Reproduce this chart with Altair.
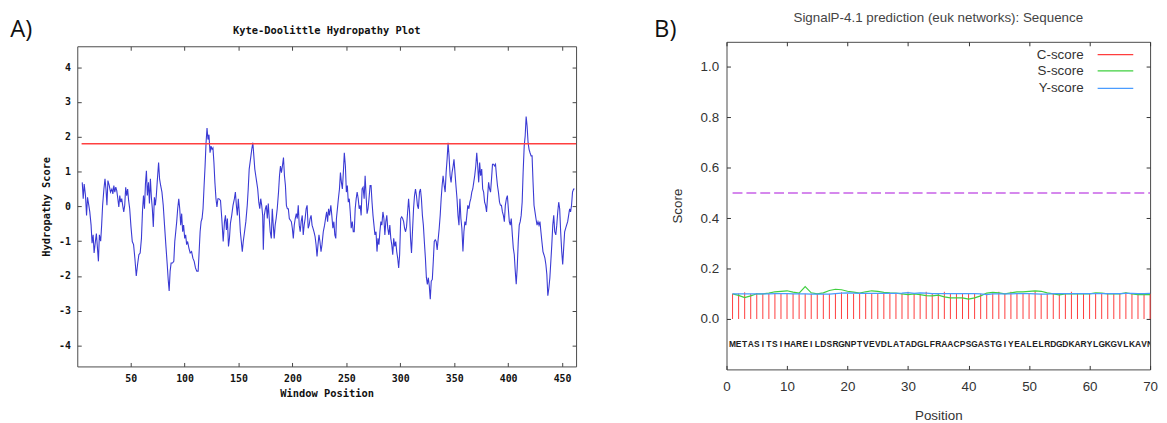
import altair as alt
import pandas as pd

# ---------------- Panel A: Kyte-Doolittle hydropathy (window position, score)
KD_SEG_1 = [(5.1,0.69),(6.0,0.22),(6.9,0.64),(8.1,0.31),(9.1,-0.26),(10.0,0.26),(11.2,0.03),(12.1,-0.16),(13.3,-0.54),(14.2,-1.06),(15.2,-0.82),(16.1,-1.34),(17.3,-1.01),(18.2,-0.78),(19.1,-1.15),(20.1,-1.58),(21.0,-0.82),(22.2,-1.0),(23.1,-0.54),(24.0,0.03),(25.2,0.5),(26.2,0.79),(27.1,0.5),(28.0,0.03),(28.9,0.74),(30.1,0.6),(31.3,0.41),(32.6,0.5),(33.5,0.36),(34.4,0.6),(35.3,0.41),(36.2,0.55),(37.1,0.45),(38.1,0.22),(39.0,-0.02),(39.9,0.31),(40.8,0.12),(41.7,0.22),(42.6,0.03),(43.6,-0.16),(44.5,0.03),(45.4,0.55),(46.3,0.31),(47.2,0.5),(48.1,0.17),(49.1,-0.07),(50.3,-0.59),(51.5,-1.01),(52.7,-1.1),(53.9,-1.49),(55.2,-2.0),(56.4,-1.67),(57.6,-1.39),(58.8,-1.34),(60.0,-0.92),(61.0,-0.11),(61.9,0.31),(62.8,-0.07),(63.7,0.64),(64.6,1.02),(65.5,0.31),(66.5,0.69),(67.4,0.08),(68.3,0.79),(69.2,0.26),(70.1,-0.07),(71.0,-0.59),(72.0,0.26),(72.9,0.03),(73.8,0.31),(74.7,0.74),(75.9,1.26),(76.8,0.79),(77.8,0.6),(79.0,0.41),(80.2,0.03),(81.4,-0.54),(82.6,-1.1),(83.9,-1.67),(84.8,-2.1),(85.7,-2.43),(86.6,-1.86),(87.5,-1.63),(88.8,-1.63),(90.0,-1.58),(90.9,-1.01),(91.8,-0.73),(92.7,-0.44),(93.6,-0.07),(94.6,0.22),(95.5,-0.07),(96.4,-0.54),(97.3,-0.21),(98.2,-0.73),(99.1,-0.54),(100.1,-0.92),(101.0,-0.82),(101.9,-1.1),(102.8,-1.01),(104.0,-1.2),(105.2,-1.34),(106.5,-1.3),(107.7,-1.49),(108.9,-1.58),(110.1,-1.77),(111.3,-1.86),(112.6,-1.86),(113.5,-1.3),(114.4,-0.73),(115.3,-0.44),(116.2,-0.35),(117.1,-0.07),(118.1,0.6),(119.0,1.16),(119.9,1.83),(120.8,2.25)]
KD_SEG_2 = [(121.7,1.92),(122.6,2.06),(123.6,1.54),(124.5,1.73),(125.4,1.64),(126.3,1.68),(127.2,1.26),(128.1,0.69),(129.1,0.22),(130.0,-0.02),(130.9,0.22),(131.8,0.22),(133.3,0.17),(134.5,-0.35),(135.8,-1.01),(137.0,-0.44),(137.9,-0.26),(138.8,-0.68),(139.7,-0.35),(140.7,-1.15),(141.6,-0.92),(142.5,-0.49),(143.7,-0.26),(144.9,0.03),(146.2,0.22),(147.1,0.41),(148.0,0.03),(148.9,-0.26),(149.8,0.22),(150.7,-0.16),(151.7,-0.73),(152.6,-1.01),(153.5,-1.3),(154.4,-1.01),(155.6,-0.73),(156.8,-0.44),(158.1,0.03),(159.0,0.5),(159.9,1.07),(161.1,1.35),(162.3,1.64),(163.3,1.83),(164.2,1.45),(165.1,1.07),(166.0,0.88),(166.9,0.69),(167.8,0.5),(168.8,0.12),(169.7,-0.07),(170.6,0.22),(171.5,0.03),(172.4,-0.26),(173.0,-1.25),(173.9,-0.26),(174.9,-0.07),(175.8,0.03),(176.7,-0.35),(177.6,0.08),(178.5,-0.35),(179.4,-0.73),(180.4,-0.92),(181.3,-0.07),(182.2,-0.54),(183.1,-0.92),(184.0,-0.54),(184.9,-0.35),(185.9,-0.07),(187.1,0.41),(188.0,0.88),(188.9,1.16),(189.8,0.97),(190.7,1.16),(191.7,1.4),(192.6,0.88),(193.5,0.6),(194.4,0.03),(195.3,-0.07),(196.2,-0.07),(197.1,-0.35),(198.1,-0.4),(199.0,-0.44),(199.9,-0.63),(200.8,-0.92),(201.7,-0.54),(202.6,-0.35),(203.6,-0.21),(204.5,-0.35),(205.4,0.03),(206.3,-0.54),(207.2,-0.73),(208.1,-0.44),(209.1,-0.26),(210.0,-0.82),(210.9,-0.54),(211.8,-0.35),(212.7,-0.07),(213.6,0.03),(214.6,-0.63),(215.5,-0.54),(216.4,-0.35),(217.3,-0.26),(218.2,-0.54),(219.1,-0.63),(220.0,-0.73),(221.0,-0.87),(221.9,-1.1),(222.8,-1.44),(223.7,-1.1),(224.6,-0.82),(225.5,-1.01),(226.5,-1.3),(227.4,-1.1),(228.6,-0.73),(229.8,-0.54),(230.7,-0.35),(231.7,-0.16),(232.6,-0.44),(233.5,-0.07),(234.4,-0.26),(235.6,0.03),(236.5,-0.26),(237.5,-0.63),(238.4,-0.44),(239.3,-0.82),(240.2,-0.92)]
KD_SEG_3 = [(240.8,-0.35),(241.7,-0.07),(242.6,0.22),(243.6,0.5),(244.5,0.97),(245.4,0.69),(246.3,0.5),(247.2,0.97),(248.1,1.54),(249.1,1.16),(250.0,0.41),(250.9,0.6),(251.8,0.12),(252.7,0.22),(253.6,-0.16),(254.5,-0.63),(255.5,-0.44),(256.4,-0.73),(257.3,-0.73),(258.2,-0.07),(259.1,0.22),(260.0,0.41),(261.0,0.22),(261.9,-0.07),(262.8,0.03),(263.7,-0.26),(264.6,0.5),(265.5,0.55),(266.5,0.22),(267.4,0.88),(268.3,0.31),(269.2,-0.21),(270.1,-0.07),(271.0,0.22),(272.0,0.6),(272.9,0.6),(273.8,0.12),(274.7,-0.26),(275.6,-0.54),(276.5,-0.82),(277.5,-0.73),(278.4,-1.3),(279.3,-0.92),(280.2,-1.1),(281.1,-0.73),(282.0,-0.44),(282.9,-0.54),(283.9,-0.16),(284.8,-0.35),(285.7,-0.82),(286.6,-0.44),(287.5,-0.26),(288.4,-0.63),(289.4,-0.82),(290.3,-0.54),(291.2,-0.92),(292.1,-1.1),(293.0,-1.39),(293.9,-0.92),(294.9,-1.15),(295.8,-1.01),(296.7,-1.3),(297.6,-1.49),(298.5,-1.77),(299.4,-1.39),(300.4,-0.35),(301.3,-0.3),(302.2,-0.35),(303.1,-0.44),(304.0,-0.63),(304.9,-0.73),(305.8,-0.59),(306.8,-0.16),(307.7,0.22),(308.6,-0.16),(309.5,-0.92),(310.4,-1.34),(311.3,-0.73),(312.3,-0.07),(313.2,0.31),(314.1,0.5),(315.0,0.31),(315.9,0.03),(316.8,-0.07),(317.8,0.41),(318.7,0.5),(319.6,0.22),(320.5,-0.26),(321.4,-0.54),(322.3,-1.01),(323.3,-1.49),(324.2,-2.05),(325.1,-2.24),(326.0,-2.05),(326.9,-2.29),(327.8,-2.67),(328.7,-2.15),(329.7,-2.1),(330.6,-1.58),(331.5,-1.01),(332.4,-0.96),(333.3,-1.01),(334.2,-1.25),(335.2,-0.92),(336.1,-0.63),(337.0,-0.26),(337.9,0.22),(338.8,0.6),(339.7,0.88),(340.7,0.6),(341.6,0.41),(342.5,0.97),(343.4,1.35),(344.3,1.83),(345.2,1.45),(346.2,0.88),(347.1,0.69),(348.0,0.97),(349.0,1.16),(349.8,1.35),(350.7,0.97),(351.6,0.6),(352.6,0.22),(353.5,-0.26),(354.4,-0.54),(355.3,0.22),(356.2,-0.35),(357.1,-0.63)]
KD_SEG_4 = [(358.1,-1.3),(359.0,-0.73),(359.9,-0.44),(360.8,-0.54),(361.7,-0.26),(362.6,0.03),(363.6,-0.07),(364.5,0.12),(365.4,0.22),(366.3,0.41),(367.2,0.5),(368.1,0.69),(369.0,0.88),(370.0,1.16),(370.9,1.54),(371.8,1.16),(372.7,0.69),(373.6,1.26),(374.5,0.88),(375.5,1.07),(376.4,0.5),(377.3,0.41),(378.2,0.12),(379.1,0.03),(380.0,-0.16),(381.0,0.31),(381.9,0.69),(382.8,0.5),(383.7,0.41),(384.6,0.79),(385.5,1.21),(386.5,1.21),(387.4,1.16),(388.3,1.21),(389.2,0.88),(390.1,0.6),(391.0,0.41),(392.0,0.12),(392.9,0.03),(393.8,0.03),(394.7,-0.16),(395.6,-0.26),(396.5,-0.44),(397.4,0.03),(398.4,0.22),(399.3,0.31),(400.2,-0.07),(401.1,-0.44),(402.0,-0.54),(402.9,-0.35),(403.9,-0.82),(404.8,-1.2),(405.7,-1.39),(406.6,-1.86),(407.5,-2.24),(408.4,-1.77),(409.4,-1.01),(410.3,-0.54),(411.2,-0.44),(412.1,-0.26),(413.0,0.12),(413.9,0.97),(414.9,1.73),(415.8,2.02),(416.7,2.58),(417.6,2.3),(418.5,1.83),(419.4,1.64),(420.3,1.54),(421.3,1.45),(422.2,1.45),(423.1,0.69),(424.0,0.03),(424.9,-0.16),(425.8,-0.35),(426.8,-0.54),(427.7,-0.44),(428.6,-0.54),(429.5,-0.44),(430.4,-0.73),(431.3,-1.01),(432.3,-1.3),(433.2,-1.39),(434.1,-1.49),(435.0,-1.67),(435.9,-1.96),(436.8,-2.57),(437.8,-2.34),(438.7,-2.05),(439.6,-1.58),(440.5,-1.1),(441.4,-0.54),(442.3,-0.26),(443.2,-0.73),(444.2,-0.82),(445.1,-0.54),(446.0,-0.16),(446.9,0.12),(447.8,-0.07),(448.7,-0.73),(449.7,-1.3),(450.6,-1.67),(451.5,-1.2),(452.4,-0.73),(453.3,-0.63),(454.2,-0.54),(455.2,-0.44),(456.1,-0.26),(457.0,-0.07),(457.9,-0.16),(458.8,0.03),(459.7,0.41),(460.7,0.5),(461.6,0.5)]
KD_THRESHOLD = 1.8
KD_THRESHOLD_FROM = 4.5
KD_THRESHOLD_TO = 463
KD_X_DOMAIN = [0.5, 463]
KD_Y_DOMAIN = [-4.6, 4.6]
KD_X_TICKS = [50, 100, 150, 200, 250, 300, 350, 400, 450]
KD_Y_TICKS = [-4, -3, -2, -1, 0, 1, 2, 3, 4]
KD_TITLE = "Kyte-Doolittle Hydropathy Plot"

# ---------------- Panel B: SignalP-4.1 prediction
SEQUENCE = "METASITSIHAREILDSRGNPTVEVDLATADGLFRAACPSGASTGIYEALELRDGDKARYLGKGVLKAVN"
C_SCORE = [0.100, 0.101, 0.106, 0.100, 0.102, 0.100, 0.100, 0.100, 0.101, 0.101,
           0.100, 0.104, 0.100, 0.100, 0.100, 0.100, 0.100, 0.101, 0.106, 0.100,
           0.100, 0.100, 0.101, 0.100, 0.100, 0.100, 0.100, 0.100, 0.101, 0.108,
           0.100, 0.100, 0.108, 0.100, 0.100, 0.108, 0.100, 0.100, 0.100, 0.100,
           0.100, 0.100, 0.100, 0.101, 0.108, 0.100, 0.108, 0.100, 0.100, 0.101,
           0.110, 0.100, 0.100, 0.100, 0.100, 0.100, 0.108, 0.100, 0.100, 0.100,
           0.101, 0.100, 0.100, 0.101, 0.100, 0.106, 0.100, 0.100, 0.101, 0.100]
S_SCORE = [0.100, 0.094, 0.085, 0.092, 0.100, 0.100, 0.103, 0.108, 0.110, 0.112,
           0.107, 0.103, 0.129, 0.104, 0.100, 0.104, 0.113, 0.118, 0.116, 0.110,
           0.107, 0.103, 0.108, 0.112, 0.110, 0.106, 0.104, 0.103, 0.100, 0.097,
           0.100, 0.097, 0.093, 0.092, 0.095, 0.088, 0.084, 0.084, 0.084, 0.079,
           0.084, 0.092, 0.103, 0.106, 0.104, 0.100, 0.104, 0.108, 0.108, 0.110,
           0.112, 0.110, 0.104, 0.100, 0.096, 0.100, 0.100, 0.100, 0.100, 0.100,
           0.104, 0.103, 0.100, 0.100, 0.100, 0.104, 0.100, 0.097, 0.097, 0.097]
Y_SCORE = [0.100, 0.100, 0.100, 0.100, 0.100, 0.100, 0.100, 0.101, 0.101, 0.101,
           0.100, 0.100, 0.100, 0.099, 0.099, 0.099, 0.099, 0.101, 0.103, 0.104,
           0.103, 0.102, 0.102, 0.102, 0.102, 0.102, 0.102, 0.102, 0.103, 0.105,
           0.102, 0.104, 0.103, 0.101, 0.101, 0.101, 0.101, 0.101, 0.101, 0.101,
           0.101, 0.100, 0.097, 0.100, 0.100, 0.100, 0.100, 0.101, 0.101, 0.101,
           0.100, 0.099, 0.099, 0.101, 0.101, 0.101, 0.101, 0.101, 0.101, 0.101,
           0.101, 0.101, 0.101, 0.101, 0.101, 0.102, 0.102, 0.101, 0.101, 0.102]
SP_CUTOFF = 0.5
SP_CUTOFF_FROM = 1
SP_CUTOFF_TO = 70
SP_SEQ_ROW = -0.1
SP_X_DOMAIN = [0, 70]
SP_Y_DOMAIN = [-0.2, 1.1]
SP_X_TICKS = [0, 10, 20, 30, 40, 50, 60, 70]
SP_Y_TICKS = [0.0, 0.2, 0.4, 0.6, 0.8, 1.0]
SP_TITLE = "SignalP-4.1 prediction (euk networks): Sequence"
LEGEND_NAMES = ["C-score", "S-score", "Y-score"]
LEGEND_COLORS = ["#ff3d3d", "#3fcf3f", "#4a9cff"]

MONO = "DejaVu Sans Mono"
SANS = "Liberation Sans"
LABEL_FONT = "Open Sans"
FRAME = "#4a4a4a"

# layout (pixels)
A_W, A_H, A_INSET = 504, 328, 4.5     # panel A frame starts A_INSET px below the shared top
B_W, B_H = 428, 331


def text_layer(txt, x, y, **style):
    return alt.Chart(pd.DataFrame({"t": [txt]})).mark_text(**style).encode(
        x=alt.value(x), y=alt.value(y), text="t:N")


# ======================= Panel A =======================
kd = pd.DataFrame(KD_SEG_1 + KD_SEG_2 + KD_SEG_3 + KD_SEG_4, columns=["pos", "score"])
thr = pd.DataFrame({"x1": [KD_THRESHOLD_FROM], "x2": [KD_THRESHOLD_TO], "y": [KD_THRESHOLD]})
xA = alt.Scale(domain=KD_X_DOMAIN, nice=False, zero=False)
yA = alt.Scale(domain=KD_Y_DOMAIN, nice=False, zero=False, range=[A_H, A_INSET])

mono_lab = dict(labelFont=MONO, labelFontWeight="bold", labelFontSize=10, labelColor="#111",
                titleFont=MONO, titleFontWeight="bold", titleFontSize=10.5, titleColor="#111")
tickA = dict(tickSize=4, tickColor="#444", tickWidth=1, domain=False, grid=False)
frameA = dict(domain=True, domainColor=FRAME, domainWidth=1, ticks=False, labels=False, grid=False, title=None)

a_line = alt.Chart(kd).mark_line(color="#3a3ad4", strokeWidth=1.1).encode(
    x=alt.X("pos:Q", scale=xA, axis=alt.Axis(orient="bottom", values=KD_X_TICKS, offset=-4, labelPadding=7,
            title="Window Position", titlePadding=5, labelFlush=False, **tickA, **mono_lab)),
    y=alt.Y("score:Q", scale=yA, axis=alt.Axis(orient="left", values=KD_Y_TICKS, offset=-4, labelPadding=7,
            labelExpr="'' + datum.value", title="Hydropathy Score", titlePadding=7,
            **tickA, **mono_lab)),
)
a_thr = alt.Chart(thr).mark_rule(color="#ff4040", strokeWidth=1.5).encode(
    x=alt.X("x1:Q", scale=xA, axis=alt.Axis(orient="top", values=KD_X_TICKS, offset=-(A_INSET + 4),
            labels=False, title=None, **tickA)),
    x2="x2:Q",
    y=alt.Y("y:Q", scale=yA, axis=alt.Axis(orient="right", values=KD_Y_TICKS, offset=-4,
            labels=False, title=None, **tickA)),
)
a_frame1 = alt.Chart(thr).mark_point(opacity=0).encode(
    x=alt.X("x1:Q", scale=xA, axis=alt.Axis(orient="bottom", offset=0, **frameA)),
    y=alt.Y("y:Q", scale=yA, axis=alt.Axis(orient="left", offset=0, **frameA)),
)
a_frame2 = alt.Chart(thr).mark_point(opacity=0).encode(
    x=alt.X("x2:Q", scale=xA, axis=alt.Axis(orient="top", offset=-A_INSET, **frameA)),
    y=alt.Y("y:Q", scale=yA, axis=alt.Axis(orient="right", offset=0, **frameA)),
)
a_title = text_layer(KD_TITLE, A_W / 2, -11.3, font=MONO, fontWeight="bold", fontSize=10.5, color="#111",
                     align="center", baseline="middle")
a_lab = text_layer("A)", -67.7, -12.3, font=LABEL_FONT, fontSize=24, align="left", baseline="middle",
                   color="#111")

panelA = alt.layer(a_line, a_thr, a_frame1, a_frame2, a_title, a_lab).resolve_axis(
    x="independent", y="independent").properties(
    width=A_W, height=A_H, view=alt.ViewBackground(stroke=None))

# ======================= Panel B =======================
positions = list(range(1, len(SEQUENCE) + 1))
sp = pd.DataFrame({"pos": positions, "c": C_SCORE})
sy = pd.DataFrame({"pos": positions * 2,
                   "series": ["S-score"] * len(positions) + ["Y-score"] * len(positions),
                   "value": S_SCORE + Y_SCORE})
cut = pd.DataFrame({"x1": [SP_CUTOFF_FROM], "x2": [SP_CUTOFF_TO], "y": [SP_CUTOFF]})
seq = pd.DataFrame({"pos": positions, "aa": list(SEQUENCE), "row": [SP_SEQ_ROW] * len(positions)})
xB = alt.Scale(domain=SP_X_DOMAIN, nice=False, zero=False)
yB = alt.Scale(domain=SP_Y_DOMAIN, nice=False, zero=False)

sans_lab = dict(labelFont=SANS, labelFontSize=13.5, labelColor="#333",
                titleFont=SANS, titleFontSize=13.5, titleFontWeight="normal", titleColor="#333")
tickB = dict(offset=-4, tickSize=4, tickColor="#333", tickWidth=1, domain=False, grid=False)

b_c = alt.Chart(sp).mark_rule(color=LEGEND_COLORS[0], strokeWidth=1).encode(
    x=alt.X("pos:Q", scale=xB, axis=alt.Axis(orient="bottom", values=SP_X_TICKS, labelPadding=10,
            title="Position", titlePadding=16, labelFlush=False, **tickB, **sans_lab)),
    y=alt.Y("c:Q", scale=yB, axis=alt.Axis(orient="left", values=SP_Y_TICKS, format=".1f", labelPadding=8,
            title="Score", titlePadding=16, **tickB, **sans_lab)),
    y2=alt.Y2Datum(0),
)
b_lines = alt.Chart(sy).mark_line(strokeWidth=1.2).encode(
    x=alt.X("pos:Q", scale=xB, axis=alt.Axis(orient="top", values=SP_X_TICKS, labels=False, title=None, **tickB)),
    y=alt.Y("value:Q", scale=yB, axis=alt.Axis(orient="right", values=SP_Y_TICKS, labels=False, title=None, **tickB)),
    color=alt.Color("series:N", scale=alt.Scale(domain=LEGEND_NAMES[1:], range=LEGEND_COLORS[1:]), legend=None),
)
b_cut = alt.Chart(cut).mark_rule(color="#c862e8", strokeWidth=1.3, strokeDash=[10, 4]).encode(
    x=alt.X("x1:Q", scale=xB, axis=None), x2="x2:Q",
    y=alt.Y("y:Q", scale=yB, axis=None),
)
b_seq = alt.Chart(seq).mark_text(font=SANS, fontWeight="bold", fontSize=8.5, color="#222",
                                 baseline="middle", align="center", clip=True).encode(
    x=alt.X("pos:Q", scale=xB, axis=None),
    y=alt.Y("row:Q", scale=yB, axis=None),
    text="aa:N",
)
legend_layers = []
LEG_Y = [13.0, 29.4, 47.0]
for name, color, ly in zip(LEGEND_NAMES, LEGEND_COLORS, LEG_Y):
    d = pd.DataFrame({"label": [name]})
    legend_layers.append(alt.Chart(d).mark_text(font=SANS, fontSize=13.5, color="#333", align="right",
                                                baseline="middle").encode(
        x=alt.value(360.8), y=alt.value(ly), text="label:N"))
    legend_layers.append(alt.Chart(d).mark_rule(color=color, strokeWidth=1.3).encode(
        x=alt.value(375), x2=alt.value(411), y=alt.value(ly)))
b_title = text_layer(SP_TITLE, B_W / 2, -24.3, font=SANS, fontSize=13.5, color="#444",
                     align="center", baseline="middle")
b_lab = text_layer("B)", -73.2, -12.3, font=LABEL_FONT, fontSize=24, align="left", baseline="middle",
                   color="#111")

panelB = alt.layer(b_c, b_lines, b_cut, b_seq, *legend_layers, b_title, b_lab).resolve_axis(
    x="independent", y="independent").properties(
    width=B_W, height=B_H, view=alt.ViewBackground(stroke=FRAME, strokeWidth=1))

chart = alt.hconcat(panelA, panelB, spacing=75).properties(
    padding={"left": 2, "top": 0, "right": 0, "bottom": 0}
)

chart.save("out.html", embed_options={"renderer": "svg", "actions": False})
